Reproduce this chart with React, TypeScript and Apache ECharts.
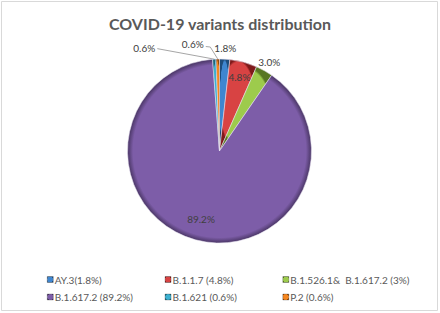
import React, { useEffect, useRef } from "react";
import * as echarts from "echarts";

const titleText = "COVID-19 variants distribution";
const legendNames = [
  "AY.3(1.8%)",
  "B.1.1.7 (4.8%)",
  "B.1.526.1&  B.1.617.2 (3%)",
  "B.1.617.2 (89.2%)",
  "B.1.621 (0.6%)",
  "P.2 (0.6%)",
];
const shareValues = [1.8, 4.8, 3.0, 89.2, 0.6, 0.6];
const sliceColors = ["#3F86D0", "#D84343", "#9DCB4C", "#7D5DA8", "#3CB0D0", "#F5861F"];

// label placement style: radius factor (relative to pie radius) or null for leader-line labels
const labelRadiusFactor: (number | null)[] = [1.12, 0.83, 1.11, 0.77, null, null];
// leader-line labels: offset of the label's right end from the slice edge, and of the line's bend
const leaderLabelOffset: Record<number, { label: [number, number]; bend: [number, number] }> = {
  4: { label: [-59, -11], bend: [-57, -10.5] },
  5: { label: [-14, -15.5], bend: [-7.5, -12] },
};

export default function App() {
  const ref = useRef<HTMLDivElement>(null);
  useEffect(() => {
    document.body.style.margin = "0";
    const chart = echarts.init(ref.current!, null, { renderer: "svg" });
    const font = "Lato, sans-serif";
    const cx = 219.5;
    const cy = 151;
    const R = 92;
    const total = shareValues.reduce((a, b) => a + b, 0);
    const midAngles: number[] = [];
    let acc = 0;
    shareValues.forEach((v) => {
      midAngles.push(((acc + v / 2) / total) * Math.PI * 2);
      acc += v;
    });
    const data = legendNames.map((n, i) => ({
      name: n,
      value: shareValues[i],
      itemStyle: {
        color: new echarts.graphic.RadialGradient(0.5, 0.5, 0.5, [
          { offset: 0, color: sliceColors[i] },
          { offset: 0.94, color: sliceColors[i] },
          { offset: 1, color: echarts.color.modifyHSL(sliceColors[i], null, null, 0.3) as string },
        ]),
      },
      label: { position: "outside" },
      labelLine: leaderLabelOffset[i]
        ? { show: true, length: 10, length2: 10 }
        : { show: false },
    }));
    chart.setOption({
      animation: false,
      backgroundColor: "#ffffff",
      title: {
        text: titleText,
        left: "center",
        top: 10,
        textStyle: { fontFamily: font, fontWeight: "bold", fontSize: 16, color: "#595959" },
      },
      legend: legendNames.map((n, i) => ({
        data: [n],
        left: 47 + (i % 3) * 117.8,
        top: 274.5 + Math.floor(i / 3) * 17.5,
        icon: "rect",
        itemWidth: 6,
        itemHeight: 6,
        itemGap: 0,
        padding: 0,
        itemStyle: { borderColor: "rgba(40,40,40,0.5)", borderWidth: 0.5 },
        textStyle: { fontFamily: font, fontSize: 10, color: "#595959", padding: [0, 0, 0, -3.5] },
      })),
      series: [
        {
          type: "pie",
          center: [cx, cy],
          radius: R,
          startAngle: 90,
          clockwise: true,
          avoidLabelOverlap: false,
          itemStyle: { borderColor: "rgba(230,225,240,0.7)", borderWidth: 0.8 },
          label: {
            fontFamily: font,
            fontSize: 10,
            color: "#404040",
            formatter: (p: any) => p.value.toFixed(1) + "%",
          },
          labelLine: { lineStyle: { color: "#A6A6A6", width: 1 }, smooth: false },
          labelLayout: (p: any) => {
            const i = p.dataIndex;
            const a = midAngles[i];
            const f = labelRadiusFactor[i];
            if (f != null) {
              return {
                x: cx + Math.sin(a) * R * f,
                y: cy - Math.cos(a) * R * f,
                align: "center",
                verticalAlign: "middle",
              };
            }
            const ex = cx + Math.sin(a) * R;
            const ey = cy - Math.cos(a) * R;
            const o = leaderLabelOffset[i];
            return {
              x: ex + o.label[0],
              y: ey + o.label[1],
              align: "right",
              verticalAlign: "middle",
              labelLinePoints: [
                [ex, ey],
                [ex + o.bend[0], ey + o.bend[1]],
                [ex + o.label[0] + 2, ey + o.label[1] + (i === 5 ? 3 : 0.5)],
              ],
            };
          },
          data,
        },
      ],
      graphic: [
        {
          type: "rect",
          shape: { x: 1.5, y: 1.5, width: 436, height: 309 },
          style: { fill: "none", stroke: "#D9D9D9", lineWidth: 1 },
          silent: true,
        },
      ],
    });
    return () => chart.dispose();
  }, []);
  return <div ref={ref} style={{ width: 440, height: 313 }} />;
}
